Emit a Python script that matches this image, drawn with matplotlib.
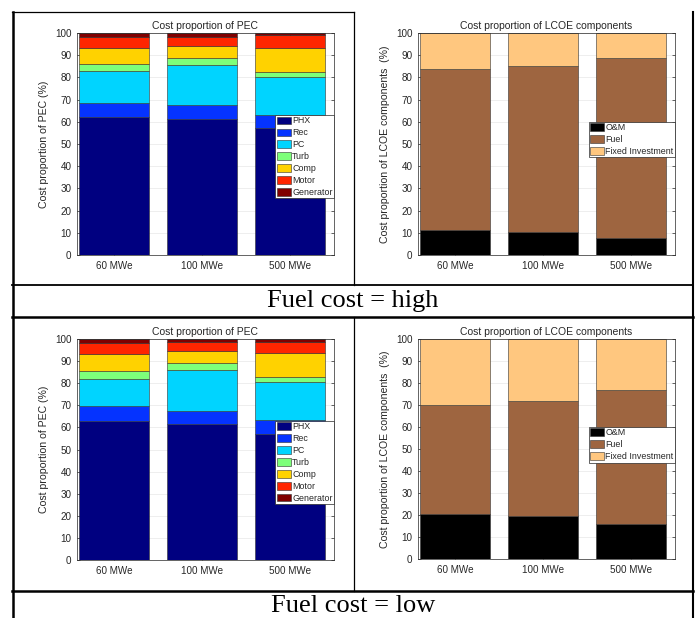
import matplotlib
matplotlib.use('Agg')
import matplotlib.pyplot as plt
from matplotlib.lines import Line2D
import numpy as np

plt.rcParams['font.family'] = ['Liberation Sans', 'DejaVu Sans']

categories = ['60 MWe', '100 MWe', '500 MWe']

pec_labels = ['PHX', 'Rec', 'PC', 'Turb', 'Comp', 'Motor', 'Generator']
pec_colors = ['#000080', '#0533FF', '#00D4FF', '#7DFF7A', '#FFD200', '#FF2500', '#800000']

# segment shares (%) per component, one row per component
pec_high = [[62.1, 61.2, 57.0],
            [6.3, 6.3, 6.0],
            [14.4, 18.3, 17.2],
            [3.4, 3.1, 2.4],
            [7.1, 5.4, 10.7],
            [4.8, 3.9, 5.8],
            [1.9, 1.8, 0.9]]
pec_low = [[62.9, 61.4, 57.0],
           [6.8, 6.2, 6.2],
           [12.3, 18.4, 17.5],
           [3.5, 3.0, 2.0],
           [7.6, 5.6, 10.8],
           [5.2, 3.9, 5.3],
           [1.7, 1.5, 1.2]]

lcoe_labels = ['O&M', 'Fuel', 'Fixed Investment']
lcoe_colors = ['#000000', '#9E6540', '#FFC77F']
lcoe_high = [[11.2, 10.2, 7.8],
             [72.8, 75.1, 81.0],
             [16.0, 14.7, 11.2]]
lcoe_low = [[20.4, 19.7, 15.9],
            [49.6, 52.0, 61.0],
            [30.0, 28.3, 23.1]]

W, H = 696, 618
fig = plt.figure(figsize=(W/100., H/100.), dpi=100)
fig.patch.set_facecolor('white')

def addAxes(x0, y0, x1, y1):
    # pixel box (top-left origin) -> figure fraction
    return fig.add_axes([x0/W, 1-y1/H, (x1-x0)/W, (y1-y0)/H])

def stackedBars(ax, data, labels, colors, title, ylabel, legend_anchor):
    x = np.arange(1, len(categories)+1)
    bottom = np.zeros(len(categories))
    for vals, lab, col in zip(data, labels, colors):
        ax.bar(x, vals, 0.8, bottom=bottom, color=col, edgecolor='#303030',
               linewidth=0.4, label=lab, zorder=2)
        bottom += np.array(vals)
    ax.set_xlim(0.58, 3.5)
    ax.set_ylim(0, 100)
    ax.set_yticks(np.arange(0, 101, 10))
    ax.set_xticks(x)
    ax.set_xticklabels(categories)
    ax.yaxis.grid(True, color='#e8e8e8', linewidth=0.5, zorder=0)
    ax.set_axisbelow(True)
    ax.tick_params(direction='in', length=2.5, width=0.5, labelsize=7.1,
                   colors='#262626', top=True, right=True, pad=4)
    for s in ax.spines.values():
        s.set_color('#262626')
        s.set_linewidth(0.5)
    ax.set_title(title, fontsize=7.5, color='#262626', pad=3)
    ax.set_ylabel(ylabel, fontsize=7.6, color='#262626', labelpad=4)
    leg = ax.legend(loc='upper right', bbox_to_anchor=legend_anchor, fontsize=6.4,
                    fancybox=False, framealpha=1, edgecolor='#262626',
                    borderpad=0.15, labelspacing=0.33, handlelength=1.6,
                    handleheight=0.95, handletextpad=0.15, borderaxespad=0)
    leg.get_frame().set_linewidth(0.5)
    for p in leg.get_patches():
        p.set_edgecolor('#303030')
    for t in leg.get_texts():
        t.set_color('#262626')

ax1 = addAxes(77, 33, 334, 255)
stackedBars(ax1, pec_high, pec_labels, pec_colors, 'Cost proportion of PEC',
            'Cost proportion of PEC (%)', (1.0, 0.63))
ax2 = addAxes(418, 33, 675, 255)
stackedBars(ax2, lcoe_high, lcoe_labels, lcoe_colors, 'Cost proportion of LCOE components',
            'Cost proportion of LCOE components  (%)', (1.0, 0.6))
ax3 = addAxes(77, 339, 334, 560)
stackedBars(ax3, pec_low, pec_labels, pec_colors, 'Cost proportion of PEC',
            'Cost proportion of PEC (%)', (1.0, 0.63))
ax4 = addAxes(418, 339, 675, 559)
stackedBars(ax4, lcoe_low, lcoe_labels, lcoe_colors, 'Cost proportion of LCOE components',
            'Cost proportion of LCOE components  (%)', (1.0, 0.6))

# table borders
def hline(y, x0, x1, lw=1.2):
    fig.add_artist(Line2D([x0/W, x1/W], [1-y/H, 1-y/H], color='black', lw=lw,
                          transform=fig.transFigure))

def vline(x, y0, y1, lw=1.2):
    fig.add_artist(Line2D([x/W, x/W], [1-y0/H, 1-y1/H], color='black', lw=lw,
                          transform=fig.transFigure))

hline(12, 12, 354, lw=0.9)
vline(12.5, 12, 618, lw=1.8)
vline(354, 12, 285, lw=0.9)
vline(354, 317, 591, lw=0.9)
vline(693, 12, 618, lw=1.5)
hline(285, 12, 693, lw=1.3)
hline(317, 12, 693, lw=1.8)
hline(591, 12, 693, lw=1.8)

fig.text(353/W, 1-301/H, 'Fuel cost = high', ha='center', va='center',
         fontsize=19, family='Liberation Serif')
fig.text(353/W, 1-606/H, 'Fuel cost = low', ha='center', va='center',
         fontsize=19, family='Liberation Serif')

fig.savefig('out.png', dpi=100)
